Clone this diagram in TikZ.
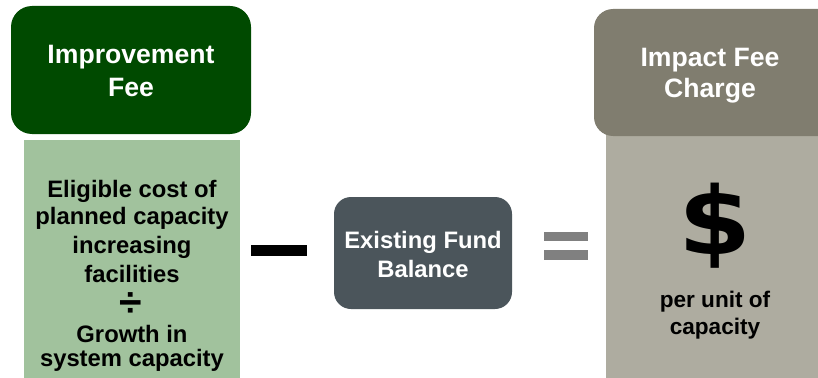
\documentclass[tikz,border=0pt]{standalone}
\usepackage{fontspec}
\setmainfont{Liberation Sans}
\newfontfamily\heavyfont{DejaVu Sans}
\definecolor{dkgreen}{HTML}{004A00}
\definecolor{ltgreen}{HTML}{A1C29D}
\definecolor{dkgray}{HTML}{4B555B}
\definecolor{taupe}{HTML}{807D6F}
\definecolor{lttaupe}{HTML}{AEACA0}
\definecolor{eqgray}{HTML}{808080}
\tikzset{
  txt/.style={inner sep=0pt, anchor=base, font=\bfseries},
  wtxt/.style={txt, text=white},
}
\newcommand{\fs}[1]{\fontsize{#1}{#1}\selectfont}
\begin{document}
\begin{tikzpicture}[x=1pt,y=-1pt]
\useasboundingbox (0,0) rectangle (818,377);
\clip (0,0) rectangle (818,377);
% left column
\fill[dkgreen, rounded corners=21pt] (11,6) rectangle (251,134);
\fill[ltgreen] (24,140) rectangle (240,380);
\node[wtxt, font=\bfseries\fs{26.6}] (t1) at (131,64) {Improvement};
\node[wtxt, font=\bfseries\fs{26.6}] (t2) at (131,97) {Fee};
\node[txt, font=\bfseries\fs{23.8}] (l1) at (132,197) {Eligible cost of};
\node[txt, font=\bfseries\fs{23.8}] (l2) at (132,224) {planned capacity};
\node[txt, font=\bfseries\fs{23.8}] (l3) at (132,253) {increasing};
\node[txt, font=\bfseries\fs{23.8}] (l4) at (132,282) {facilities};
\node[inner sep=0pt, font=\bfseries\fs{41}] (div) at (131,305) {÷};
\node[txt, font=\bfseries\fs{23.8}] (l5) at (132,342) {Growth in};
\node[txt, font=\bfseries\fs{23.8}] (l6) at (132,366) {system capacity};
% minus
\fill[black] (251,245) rectangle (307,256);
% middle
\fill[dkgray, rounded corners=17pt] (334,197) rectangle (512,309);
\node[wtxt, font=\bfseries\fs{23.8}] (m1) at (423,248) {Existing Fund};
\node[wtxt, font=\bfseries\fs{23.8}] (m2) at (423,277) {Balance};
% equals
\fill[eqgray] (544,232) rectangle (588,241);
\fill[eqgray] (544,250) rectangle (588,260);
% right column
\fill[lttaupe] (606,130) rectangle (830,380);
\fill[taupe, rounded corners=19pt] (594,9) rectangle (850,136);
\node[wtxt, font=\bfseries\fs{26.6}] (r1) at (710,67) {Impact Fee};
\node[wtxt, font=\bfseries\fs{26.6}] (r2) at (710,98) {Charge};
\node[inner sep=0pt, font=\heavyfont\bfseries\fs{94}, xscale=1.12] (dollar) at (715,225.5) {\$};
\node[txt, font=\bfseries\fs{22.6}] (p1) at (715,307) {per unit of};
\node[txt, font=\bfseries\fs{22.6}] (p2) at (715,334) {capacity};
\end{tikzpicture}
\end{document}
